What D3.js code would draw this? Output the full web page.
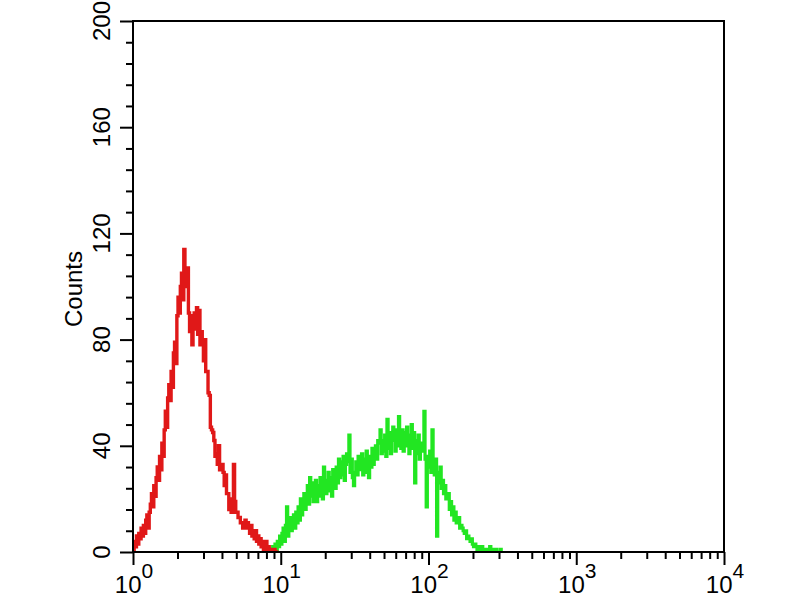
<!DOCTYPE html>
<html><head><meta charset="utf-8">
<script src="https://cdn.jsdelivr.net/npm/d3@7"></script>
<style>html,body{margin:0;padding:0;background:#fff;}svg{display:block;}</style>
</head><body>
<svg id="chart" width="800" height="600"></svg>
<script>
// ---- data ----
const channelsPerDecade = 128;          // histogram resolution (channel -> 10^(c/128))
const yTickValues = [0, 40, 80, 120, 160, 200];
const xDecades = [0, 1, 2, 3, 4];
const yLabel = "Counts";
const redFirstChannel = 0;
const redCounts = [
 1,4,2,6,3,7,5,9,6,10,
 7,12,14,9,15,18,22,17,25,21,
 28,32,27,36,31,41,36,46,53,47,
 58,63,57,68,62,75,79,71,89,96,
 90,100,105,95,114,107,100,107,90,83,
 89,78,86,90,84,92,82,91,78,83,
 78,72,80,68,68,60,59,47,46,45,
 42,36,37,33,40,31,32,33,30,25,
 29,22,22,16,20,15,19,33,19,15,
 15,13,13,11,11,9,10,12,9,11,
 9,7,10,6,8,5,8,4,6,3,
 5,2,4,1,3,4,1,2,1,0,
 1,0,1,0,0,0
];
const greenFirstChannel = 118;
const greenCounts = [
 0,1,0,2,0,3,1,4,2,6,3,7,
 9,4,10,17,6,11,13,8,12,14,
 9,15,11,17,12,20,14,19,22,16,
 21,25,18,28,21,26,19,24,27,19,
 25,21,28,24,20,32,27,22,27,30,
 23,28,21,31,27,24,32,26,35,28,
 34,29,36,27,33,37,34,44,30,35,
 28,25,30,34,29,36,31,34,37,29,
 35,30,38,31,28,36,32,39,33,36,
 40,35,42,41,46,37,42,38,44,36,
 50,39,45,37,43,47,42,38,46,40,
 51,41,39,46,38,45,40,47,42,37,
 44,48,39,45,26,42,37,44,35,41,
 38,40,53,35,17,36,32,38,30,46,
 33,29,35,6,30,26,32,24,27,22,
 25,20,21,22,16,19,14,17,12,15,
 11,12,13,9,10,9,8,7,8,5,
 6,5,4,5,3,2,3,2,1,2,
 1,0,2,1,0,1,0,0,1,2,0,1,0,0,1,0,0,0,1,0
];

// ---- drawing ----
const svg = d3.select("#chart");
const L = 133, R = 724, T = 21, B = 552;
const x = d3.scaleLog().domain([1, 10000]).range([L, R]);
const y = d3.scaleLinear().domain([0, 200]).range([B, T]);

function toPoints(first, counts){
  const pts = counts.map((v,i)=>[Math.pow(10,(first+i)/channelsPerDecade), v]);
  pts.push([Math.pow(10,(first+counts.length)/channelsPerDecade), counts[counts.length-1]]);
  return pts;
}
const line = d3.line().x(d=>x(d[0])).y(d=>y(d[1])).curve(d3.curveStepAfter);

svg.append("clipPath").attr("id","plotclip").append("rect")
  .attr("x",L).attr("y",T-2).attr("width",R-L).attr("height",B-T+2);

const g = svg.append("g").attr("clip-path","url(#plotclip)");
g.append("path").datum(toPoints(greenFirstChannel, greenCounts))
  .attr("d", line).attr("fill","none").attr("stroke","#22e622").attr("stroke-width",3.2).attr("stroke-linejoin","miter");
g.append("path").datum(toPoints(redFirstChannel, redCounts))
  .attr("d", line).attr("fill","none").attr("stroke","#e01818").attr("stroke-width",3.4).attr("stroke-linejoin","miter");

// frame
svg.append("rect").attr("x",L).attr("y",T).attr("width",R-L).attr("height",B-T)
  .attr("fill","none").attr("stroke","#000").attr("stroke-width",2);

// x ticks
const xMinor = [];
xDecades.slice(0,-1).forEach(d=>{ for(let k=2;k<=9;k++) xMinor.push(k*Math.pow(10,d)); });
const xMajor = xDecades.map(d=>Math.pow(10,d));
svg.append("g").attr("transform",`translate(0,${B})`)
  .call(d3.axisBottom(x).tickValues(xMinor).tickSize(7).tickFormat(""))
  .call(a=>{a.select(".domain").remove(); a.selectAll("line").attr("stroke","#000").attr("stroke-width",2);});
svg.append("g").attr("transform",`translate(0,${B})`)
  .call(d3.axisBottom(x).tickValues(xMajor).tickSize(13).tickFormat(""))
  .call(a=>{a.select(".domain").remove(); a.selectAll("line").attr("stroke","#000").attr("stroke-width",2);});

// x labels 10^n
const xl = svg.append("g");
xDecades.forEach(d=>{
  const t = xl.append("text").attr("x", x(Math.pow(10,d))+1).attr("y", 593)
    .attr("text-anchor","middle").attr("font-family","Liberation Sans, Arial, sans-serif")
    .attr("font-size",24).attr("fill","#000");
  t.append("tspan").text("10");
  t.append("tspan").attr("dy",-15).attr("font-size",21).text(String(d));
});

// y ticks
const yMinor = d3.range(0, 201, 8).filter(v=>v%40!==0);
svg.append("g").attr("transform",`translate(${L},0)`)
  .call(d3.axisLeft(y).tickValues(yMinor).tickSize(7).tickFormat(""))
  .call(a=>{a.select(".domain").remove(); a.selectAll("line").attr("stroke","#000").attr("stroke-width",2);});
svg.append("g").attr("transform",`translate(${L},0)`)
  .call(d3.axisLeft(y).tickValues(yTickValues).tickSize(13).tickFormat(""))
  .call(a=>{a.select(".domain").remove(); a.selectAll("line").attr("stroke","#000").attr("stroke-width",2);});

yTickValues.forEach(v=>{
  svg.append("text").attr("transform",`translate(110,${y(v)}) rotate(-90)`)
    .attr("text-anchor","middle").attr("font-family","Liberation Sans, Arial, sans-serif")
    .attr("font-size",24).attr("fill","#000").text(String(v));
});

svg.append("text").attr("transform",`translate(82,289) rotate(-90)`)
  .attr("text-anchor","middle").attr("font-family","Liberation Sans, Arial, sans-serif")
  .attr("font-size",24).attr("fill","#000").text(yLabel);
</script>
</body></html>
